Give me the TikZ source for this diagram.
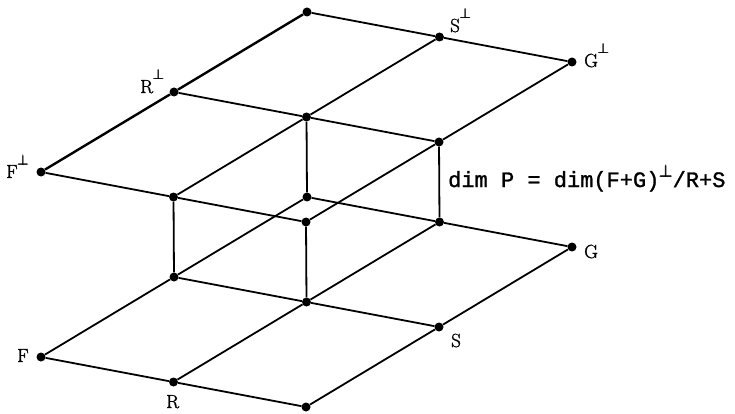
\documentclass[tikz,border=0pt]{standalone}
\usepackage{amsmath,amssymb}
\usepackage{fontspec}
\newfontfamily\typew{Liberation Mono}[FakeBold=1.3]
\newfontfamily\lblfont{Latin Modern Roman}[FakeBold=1.2]
\newcommand{\perpup}{\raisebox{13pt}{\fontsize{15}{15}\selectfont$\pmb{\perp}$}}

\begin{document}
\begin{tikzpicture}[x=1pt,y=-1pt,
    dot/.style={circle,fill=black,inner sep=0pt,minimum size=9pt},
    edge/.style={line width=1.8pt},
    lbl/.style={anchor=base west,inner sep=0pt,font=\lblfont\fontsize{19}{19}\selectfont}]
  \useasboundingbox (0,0) rectangle (735,414);
  % the two lattices: lower (lo) and upper (up)
  \foreach \i in {0,1,2}{
    \foreach \j in {0,1,2}{
      \node[dot] (lo\i\j) at ({41+132.5*\i+133*\j},{357+25*\i-80*\j}) {};
      \node[dot] (up\i\j) at ({41+132.5*\i+133*\j},{172+25*\i-80*\j}) {};}}
  \foreach \k in {0,1,2}{
    \draw[edge] (lo0\k)--(lo1\k)--(lo2\k);
    \draw[edge] (lo\k0)--(lo\k1)--(lo\k2);
    \draw[edge] (up0\k)--(up1\k)--(up2\k);}
  \draw[line width=2.4pt] (up00)--(up01)--(up02);
  \foreach \k in {1,2}{\draw[edge] (up\k0)--(up\k1)--(up\k2);}
  % verticals
  \draw[edge] (up10)--(lo01);
  \draw[edge] (up11)--(lo02);
  \draw[edge] (up20)--(lo11);
  \draw[edge] (up21)--(lo12);
  % labels
  \node[lbl] (lF) at (17,362) {F};
  \node[lbl] (lR) at (166,408) {R};
  \node[lbl] (lS) at (451,347) {S};
  \node[lbl] (lG) at (584,258) {G};
  \node[lbl] (lFp) at (6,178) {F\perpup};
  \node[lbl] (lRp) at (140,93) {R\perpup};
  \node[lbl] (lSp) at (450,32) {S\perpup};
  \node[lbl] (lGp) at (584,67) {G\perpup};
  \node[anchor=base west,inner sep=0pt,font=\typew\fontsize{22}{22}\selectfont] (dimP) at (448,187)
    {dim P = dim(F+G)\makebox[0.6em][l]{\raisebox{10pt}{\fontsize{16}{16}\selectfont$\pmb{\perp}$}}/R+S};
\end{tikzpicture}
\end{document}
